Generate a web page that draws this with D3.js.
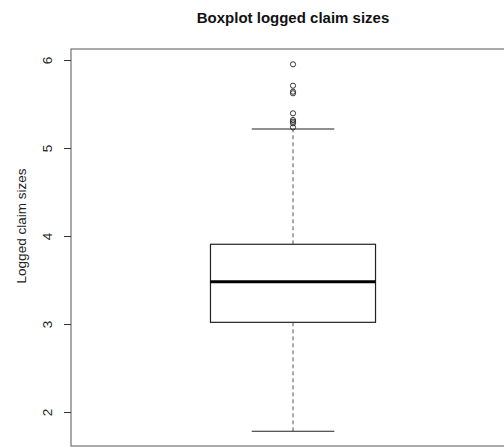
<!DOCTYPE html>
<html>
<head>
<meta charset="utf-8">
<script src="https://cdn.jsdelivr.net/npm/d3@7"></script>
<style>
  html, body { margin: 0; padding: 0; background: #fff; }
  svg { display: block; font-family: "Liberation Sans", Arial, sans-serif; }
</style>
</head>
<body>
<svg id="chart" width="504" height="447"></svg>
<script>
// Summary statistics of the logged claim sizes
const quartiles = [3.019, 3.481, 3.906];      // Q1, median, Q3
const whiskers = [1.781, 5.216];              // lower, upper
const outliers = [5.951, 5.708, 5.640, 5.622, 5.394, 5.318, 5.299, 5.281, 5.235];
const tickValues = [2, 3, 4, 5, 6];

const svg = d3.select("#chart");
const plot = { left: 71, right: 515, top: 49, bottom: 446 };

const y = d3.scaleLinear().domain([2, 6]).range([412, 60]);
const x = d3.scaleBand().domain(["claims"]).range([plot.left, plot.right]).paddingInner(0).paddingOuter(0.845);

// Title
svg.append("text")
  .attr("x", 293).attr("y", 23)
  .attr("text-anchor", "middle")
  .attr("font-size", 15).attr("font-weight", "bold")
  .attr("fill", "#111")
  .text("Boxplot logged claim sizes");

// Plot frame
svg.append("rect")
  .attr("x", plot.left).attr("y", plot.top)
  .attr("width", plot.right - plot.left).attr("height", plot.bottom - plot.top)
  .attr("fill", "none").attr("stroke", "#555").attr("stroke-width", 1);

// Left axis
const axis = svg.append("g")
  .attr("transform", `translate(${plot.left},0)`)
  .call(d3.axisLeft(y).tickValues(tickValues).tickSize(7).tickFormat(d3.format("d")));
axis.select(".domain").remove();
axis.selectAll(".tick line").attr("stroke", "#333");
axis.selectAll(".tick text")
  .attr("font-size", 13.5).attr("fill", "#222")
  .attr("font-family", "Liberation Sans, Arial, sans-serif")
  .attr("text-anchor", "middle")
  .attr("dy", 0)
  .attr("transform", "rotate(-90)")
  .attr("x", 0).attr("y", -19);

// Y axis label
svg.append("text")
  .attr("transform", "translate(26,226) rotate(-90)")
  .attr("text-anchor", "middle")
  .attr("font-size", 13.5).attr("fill", "#222")
  .text("Logged claim sizes");

const cx = x("claims") + x.bandwidth() / 2;
const bw = x.bandwidth();
const capW = bw / 2;

const g = svg.append("g");

// Whisker stems (dashed)
g.append("line")
  .attr("x1", cx).attr("x2", cx)
  .attr("y1", y(quartiles[2])).attr("y2", y(whiskers[1]))
  .attr("stroke", "#555").attr("stroke-dasharray", "4,3");
g.append("line")
  .attr("x1", cx).attr("x2", cx)
  .attr("y1", y(quartiles[0])).attr("y2", y(whiskers[0]))
  .attr("stroke", "#555").attr("stroke-dasharray", "4,3");

// Whisker caps
whiskers.forEach(w => {
  g.append("line")
    .attr("x1", cx - capW / 2).attr("x2", cx + capW / 2)
    .attr("y1", y(w)).attr("y2", y(w))
    .attr("stroke", "#222").attr("stroke-width", 1.2);
});

// Box
g.append("rect")
  .attr("x", cx - bw / 2).attr("width", bw)
  .attr("y", y(quartiles[2])).attr("height", y(quartiles[0]) - y(quartiles[2]))
  .attr("fill", "none").attr("stroke", "#222").attr("stroke-width", 1.2);

// Median
g.append("line")
  .attr("x1", cx - bw / 2).attr("x2", cx + bw / 2)
  .attr("y1", y(quartiles[1])).attr("y2", y(quartiles[1]))
  .attr("stroke", "#000").attr("stroke-width", 3);

// Outliers
g.selectAll("circle.out")
  .data(outliers)
  .join("circle")
  .attr("class", "out")
  .attr("cx", cx).attr("cy", d => y(d))
  .attr("r", 2.6)
  .attr("fill", "none").attr("stroke", "#222").attr("stroke-width", 0.9);
</script>
</body>
</html>
